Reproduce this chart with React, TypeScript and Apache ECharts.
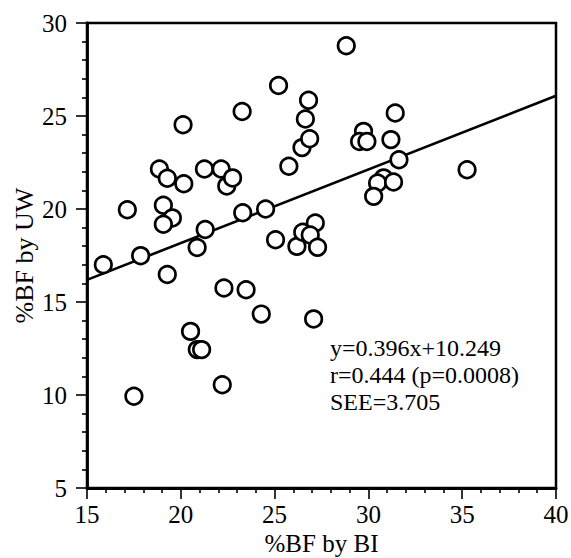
import React, { useEffect, useRef } from "react";
import * as echarts from "echarts";

// %BF by BI (x) and %BF by UW (y)
const bfBI = [
  15.87, 17.86, 17.15, 19.07, 19.55, 19.07, 18.86, 19.28, 20.16, 20.12,
  21.26, 22.15, 22.45, 22.76, 20.87, 21.3, 23.3, 23.27, 24.52, 25.21,
  25.76, 25.05, 26.19, 26.46, 26.64, 26.81, 26.87, 28.82, 29.74, 29.53,
  29.92, 31.2, 31.43, 31.63, 30.81, 30.49, 31.34, 30.28, 27.17, 26.5,
  26.9, 27.29, 35.26, 19.28, 22.3, 23.48, 24.29, 20.52, 20.88, 21.11,
  22.21, 17.5, 27.08,
];
const bfUW = [
  17.0, 17.49, 19.96, 20.2, 19.52, 19.18, 22.15, 21.65, 21.36, 24.53,
  22.15, 22.15, 21.24, 21.67, 17.93, 18.9, 19.8, 25.24, 20.0, 26.64,
  22.3, 18.35, 17.99, 23.3, 24.84, 25.85, 23.78, 28.78, 24.17, 23.63,
  23.63, 23.73, 25.16, 22.65, 21.67, 21.4, 21.45, 20.68, 19.25, 18.75,
  18.6, 17.94, 22.11, 16.48, 15.75, 15.66, 14.35, 13.42, 12.44, 12.44,
  10.55, 9.93, 14.09,
];

const slope = 0.396;
const intercept = 10.249;
const xRange = [15, 40];
const yRange = [5, 30];
const statLines = ["y=0.396x+10.249", "r=0.444 (p=0.0008)", "SEE=3.705"];

const FONT = "'Liberation Serif', 'Times New Roman', serif";

export default function App() {
  const ref = useRef<HTMLDivElement>(null);
  useEffect(() => {
    if (!ref.current) return;
    const chart = echarts.init(ref.current, null, { renderer: "svg" });
    const points = bfBI.map((x, i) => [x, bfUW[i]]);
    const fit = xRange.map((x) => [x, intercept + slope * x]);
    const axisCommon = {
      type: "value" as const,
      interval: 5,
      nameLocation: "middle" as const,
      nameMoveOverlap: false,
      nameTextStyle: { fontSize: 25, color: "#000", fontFamily: FONT },
      axisLine: { show: true, onZero: false, lineStyle: { color: "#000", width: 2.8 } },
      axisTick: { show: true, inside: false, length: 11, lineStyle: { color: "#000", width: 1.6 } },
      minorTick: { show: true, splitNumber: 5, length: 5, lineStyle: { color: "#000", width: 1.6 } },
      splitLine: { show: false },
      minorSplitLine: { show: false },
    };
    chart.setOption({
      animation: false,
      backgroundColor: "#fff",
      grid: {
        left: 87,
        right: 15,
        top: 23,
        bottom: 70,
        containLabel: false,
        outerBoundsMode: "none",
        show: true,
        borderColor: "#000",
        borderWidth: 2.5,
        backgroundColor: "transparent",
      },
      xAxis: {
        ...axisCommon,
        min: xRange[0],
        max: xRange[1],
        name: "%BF by BI",
        nameGap: 43,
        axisLabel: { fontSize: 25, color: "#000", fontFamily: FONT, margin: 14 },
      },
      yAxis: {
        ...axisCommon,
        min: yRange[0],
        max: yRange[1],
        name: "%BF by UW",
        nameGap: 50,
        nameTextStyle: { fontSize: 26, color: "#000", fontFamily: FONT },
        axisLabel: { fontSize: 25, color: "#000", fontFamily: FONT, margin: 20 },
      },
      series: [
        {
          type: "line",
          data: fit,
          showSymbol: false,
          symbol: "none",
          lineStyle: { color: "#000", width: 2.6 },
          z: 1,
        },
        {
          type: "scatter",
          data: points,
          symbol: "circle",
          symbolSize: 16.5,
          itemStyle: { color: "#fff", borderColor: "#000", borderWidth: 2.7, opacity: 1 },
          z: 2,
        },
      ],
      graphic: statLines.map((t, i) => ({
        type: "text",
        x: 330,
        y: 348 + i * 27,
        style: {
          text: t,
          fontSize: 24,
          fontFamily: FONT,
          fill: "#000",
          verticalAlign: "middle",
          align: "left",
        },
      })),
    });
    return () => chart.dispose();
  }, []);
  return (
    <div
      ref={ref}
      style={{ position: "absolute", left: 0, top: 0, width: 571, height: 558 }}
    />
  );
}
